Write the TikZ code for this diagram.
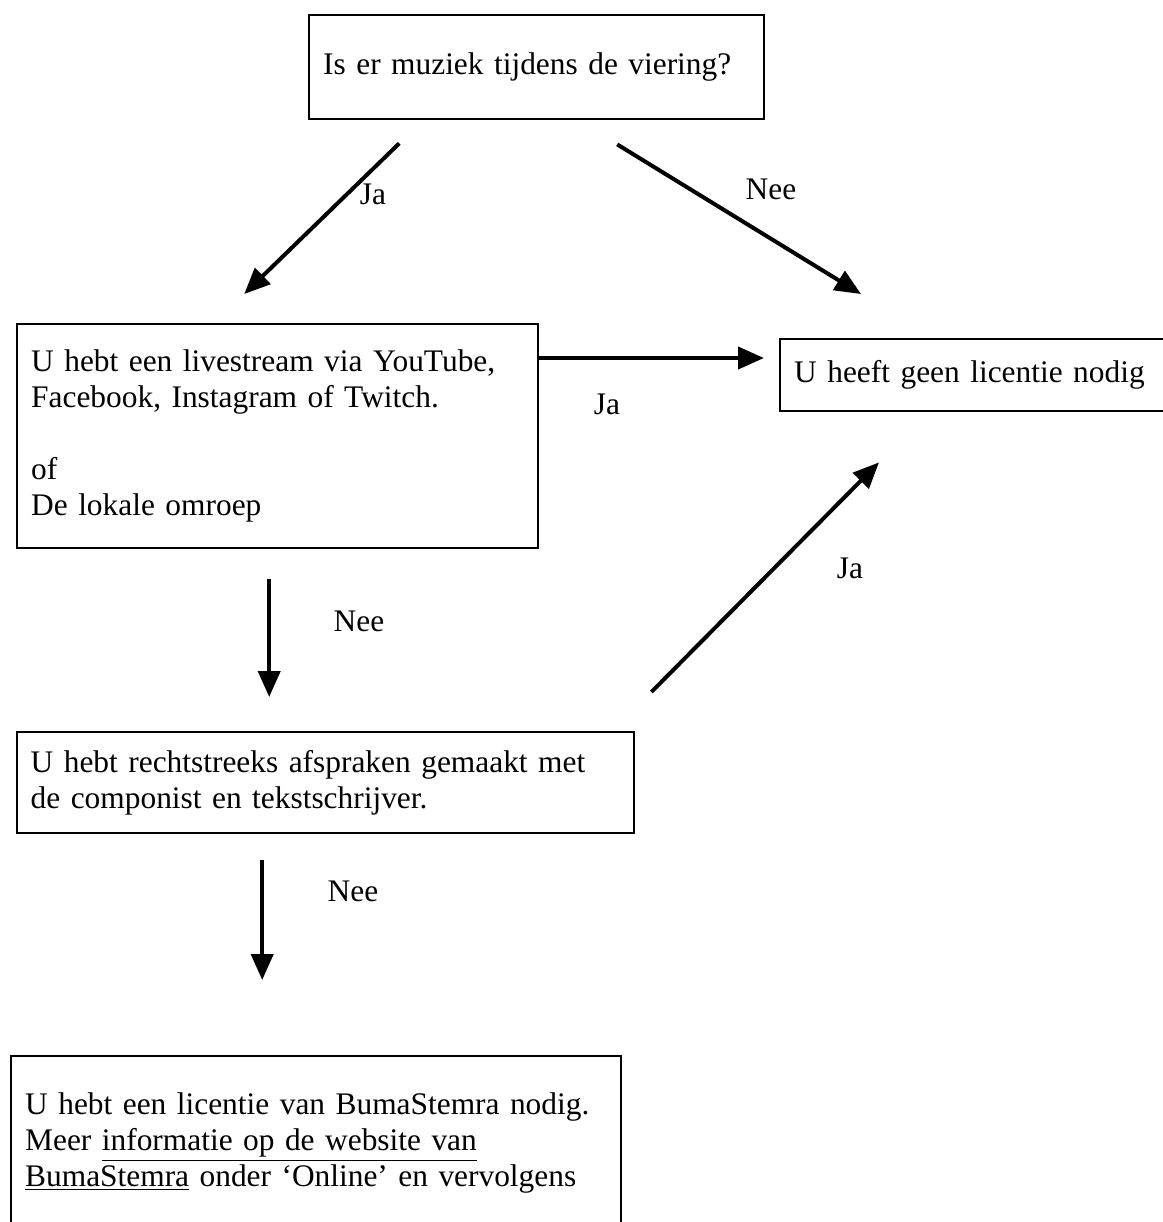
\documentclass[tikz,border=0pt]{standalone}
\usepackage{fontspec}
\setmainfont{Liberation Serif}
\usepackage{tikz}
\usetikzlibrary{arrows.meta}

\begin{document}
\begin{tikzpicture}[x=0.5pt, y=-0.5pt,
                    >={Triangle[length=13pt,width=11pt]},
                    every node/.style={font=\fontsize{15.7pt}{18pt}\selectfont},
                    kader/.style={draw, line width=1.2pt, anchor=north west, align=left,
                                  inner xsep=7pt, inner ysep=0pt},
                    pijl/.style={->, line width=2pt}]

                    \useasboundingbox (0,0) rectangle (1163,1222);
                    \clip (0,0) rectangle (1163,1222);

                    \node[kader, minimum width=227.5pt, minimum height=52pt, text width=213.5pt]
                        (vraag) at (308,14) {Is er muziek tijdens de viering?};
                    \node[kader, minimum width=260.5pt, minimum height=112pt, text width=246.5pt]
                        (livestream) at (16,323) {U hebt een livestream via YouTube,\\
                        Facebook, Instagram of Twitch.\\[18pt]
                        of\\
                        De lokale omroep};
                    \node[kader, minimum width=215pt, minimum height=36pt, text width=201pt]
                        (geen) at (779,338) {U heeft geen licentie nodig};
                    \node[kader, minimum width=308.75pt, minimum height=50.5pt, text width=294.75pt]
                        (afspraken) at (15.5,731) {U hebt rechtstreeks afspraken gemaakt met\\
                        de componist en tekstschrijver.};
                    \node[kader, minimum width=305pt, minimum height=87pt, text width=291pt]
                        (licentie) at (10,1055) {U hebt een licentie van BumaStemra nodig.\\
                        Meer \underline{informatie op de website van}\\
                        \underline{BumaStemra} onder ‘Online’ en vervolgens};

                    \draw[pijl] ([shift={(-137.5,23)}]vraag.south) -- ([shift={(-33.5,-29)}]livestream.north);
                    \draw[pijl] ([shift={(80.5,24)}]vraag.south) -- ([shift={(82,-44)}]geen.north west);
                    \draw[pijl] ([shift={(0,35)}]livestream.north east) -- ([shift={(-15,20)}]geen.north west);
                    \draw[pijl] ([shift={(16,-39)}]afspraken.north east) -- ([shift={(100,50)}]geen.south west);
                    \draw[pijl] ([shift={(-8.5,30)}]livestream.south) -- ([shift={(-56.25,-34)}]afspraken.north);
                    \draw[pijl] ([shift={(-63.25,26)}]afspraken.south) -- ([shift={(-54,-75)}]licentie.north);

                    \node (ja1) at (373,194) {Ja};
                    \node (nee1) at (771,189) {Nee};
                    \node (ja2) at (607,404) {Ja};
                    \node (ja3) at (850,568) {Ja};
                    \node (nee2) at (359,621) {Nee};
                    \node (nee3) at (353,891) {Nee};
                \end{tikzpicture}
\end{document}
